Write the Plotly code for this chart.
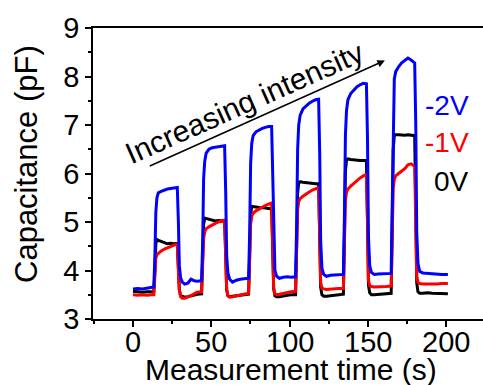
import plotly.graph_objects as go

FONT = "Liberation Sans, Arial, sans-serif"

time_s = [
    0, 3, 6, 9, 12, 13.3,
    14.0, 14.6, 15.3, 16.2, 18, 20, 22, 24, 26, 28.3, 29.0, 29.6, 30.4, 31.5, 33, 35, 37, 39, 41, 43.8,
    44.5, 45.1, 45.8, 46.7, 48.5, 50.5, 52.5, 54.5, 56.5, 58.5, 59.2, 59.8, 60.6, 61.7, 63.5, 66, 68.5, 71, 73.8,
    74.5, 75.1, 75.8, 76.7, 78.5, 80.5, 82.5, 84.5, 86.5, 88.5, 89.2, 89.8, 90.6, 91.7, 93.5, 96, 98.5, 101, 103.8,
    104.5, 105.1, 105.8, 106.7, 108.5, 110.5, 112.5, 114.5, 116.5, 118.5, 119.2, 119.8, 120.6, 121.7, 123.5, 126, 128.5, 131, 134.3,
    135.0, 135.6, 136.3, 137.2, 139, 141, 143, 145, 147, 149, 149.7, 150.3, 151.1, 152.2, 154, 156.5, 159, 161.5, 164.8,
    165.5, 166.1, 166.8, 167.7, 169.5, 171.5, 173.5, 175.5, 177.5, 179.8, 180.5, 181.1, 181.9, 183.0, 185, 188, 191, 194, 197, 201,
]

cap_0V = [
    3.57, 3.56, 3.55, 3.56, 3.55, 3.56,
    4.00, 4.55, 4.64, 4.62, 4.60, 4.57, 4.55, 4.56, 4.55, 4.56, 4.00, 3.60, 3.48, 3.46, 3.45, 3.46, 3.48, 3.50, 3.51, 3.52,
    4.20, 4.95, 5.08, 5.07, 5.05, 5.03, 5.02, 5.03, 5.02, 5.02, 4.30, 3.60, 3.48, 3.46, 3.47, 3.48, 3.49, 3.50, 3.51,
    4.30, 5.15, 5.32, 5.32, 5.31, 5.30, 5.30, 5.29, 5.28, 5.27, 4.40, 3.62, 3.48, 3.46, 3.46, 3.48, 3.49, 3.50, 3.50,
    4.60, 5.60, 5.82, 5.83, 5.82, 5.81, 5.80, 5.80, 5.79, 5.79, 4.70, 3.65, 3.50, 3.47, 3.47, 3.48, 3.49, 3.50, 3.51,
    4.80, 6.05, 6.28, 6.30, 6.29, 6.28, 6.28, 6.27, 6.27, 6.27, 5.00, 3.70, 3.54, 3.50, 3.50, 3.51, 3.52, 3.52, 3.53,
    5.00, 6.50, 6.78, 6.80, 6.80, 6.79, 6.79, 6.80, 6.79, 6.78, 5.30, 3.75, 3.56, 3.53, 3.53, 3.54, 3.53, 3.53, 3.52, 3.52,
]

cap_m1V = [
    3.50, 3.49, 3.50, 3.49, 3.50, 3.50,
    3.90, 4.25, 4.33, 4.36, 4.40, 4.44, 4.47, 4.50, 4.53, 4.55, 4.00, 3.60, 3.46, 3.43, 3.43, 3.45, 3.48, 3.52, 3.55, 3.56,
    4.10, 4.65, 4.80, 4.86, 4.90, 4.94, 4.97, 5.00, 5.02, 5.04, 4.30, 3.62, 3.48, 3.45, 3.46, 3.48, 3.50, 3.52, 3.53,
    4.30, 4.95, 5.12, 5.18, 5.23, 5.27, 5.31, 5.34, 5.37, 5.39, 4.50, 3.65, 3.52, 3.50, 3.51, 3.53, 3.55, 3.56, 3.57,
    4.50, 5.25, 5.42, 5.48, 5.53, 5.58, 5.62, 5.66, 5.69, 5.71, 4.70, 3.75, 3.64, 3.62, 3.61, 3.62, 3.62, 3.63, 3.63,
    4.70, 5.45, 5.62, 5.68, 5.74, 5.80, 5.86, 5.91, 5.95, 5.98, 5.00, 3.80, 3.69, 3.67, 3.66, 3.66, 3.67, 3.67, 3.68,
    4.90, 5.70, 5.88, 5.95, 6.00, 6.05, 6.10, 6.18, 6.20, 6.15, 5.20, 3.88, 3.76, 3.73, 3.72, 3.72, 3.71, 3.72, 3.73, 3.73,
]

cap_m2V = [
    3.62, 3.63, 3.62, 3.64, 3.65, 3.66,
    4.30, 5.20, 5.50, 5.60, 5.63, 5.66, 5.68, 5.69, 5.70, 5.71, 5.00, 4.10, 3.85, 3.76, 3.72, 3.74, 3.82, 3.79, 3.78, 3.79,
    4.60, 5.90, 6.25, 6.42, 6.50, 6.53, 6.54, 6.55, 6.56, 6.57, 5.60, 4.30, 3.95, 3.82, 3.76, 3.80, 3.82, 3.83, 3.84,
    4.80, 6.20, 6.62, 6.78, 6.86, 6.90, 6.93, 6.95, 6.97, 6.97, 6.00, 4.50, 4.00, 3.88, 3.84, 3.86, 3.87, 3.86, 3.87,
    5.00, 6.50, 7.00, 7.20, 7.33, 7.40, 7.45, 7.49, 7.52, 7.53, 6.40, 4.60, 4.05, 3.92, 3.88, 3.90, 3.91, 3.91, 3.92,
    5.20, 6.80, 7.30, 7.52, 7.65, 7.73, 7.79, 7.83, 7.86, 7.85, 6.70, 4.70, 4.10, 3.96, 3.92, 3.93, 3.93, 3.94, 3.94,
    5.40, 7.20, 7.95, 8.10, 8.20, 8.28, 8.33, 8.38, 8.34, 8.28, 7.00, 4.80, 4.15, 3.98, 3.95, 3.94, 3.93, 3.93, 3.92, 3.92,
]

series_names = ["0V", "-1V", "-2V"]
series_colors = ["#000000", "#ff0000", "#0000ff"]
series_values = [cap_0V, cap_m1V, cap_m2V]

x_ticks = [0, 50, 100, 150, 200]
x_tick_labels = ["0", "50", "100", "150", "200"]
y_ticks = [3, 4, 5, 6, 7, 8, 9]

fig = go.Figure()
for name, color, vals in zip(series_names, series_colors, series_values):
    fig.add_trace(go.Scatter(x=time_s, y=vals, mode="lines", name=name,
                             line=dict(color=color, width=3), showlegend=False))

# arrow
fig.add_annotation(x=160.8, y=8.33, ax=9.8, ay=6.14, xref="x", yref="y", axref="x", ayref="y",
                   text="", showarrow=True, arrowhead=2, arrowsize=1, arrowwidth=1.5,
                   arrowcolor="black", standoff=0, startstandoff=0)
fig.add_annotation(x=71.5, y=7.46, xref="x", yref="y", text="Increasing intensity",
                   showarrow=False, textangle=-24, font=dict(family=FONT, size=30, color="black"))

# series labels
label_y = [0.474, 0.605, 0.735]
for name, color, yy in zip(series_names, series_colors, label_y):
    fig.add_annotation(x=0.97, y=yy, xref="paper", yref="paper", text=name, showarrow=False,
                       xanchor="right", yanchor="middle", font=dict(family=FONT, size=28, color=color))

# x tick labels (placed to match the original spacing)
for tv, tl in zip(x_ticks, x_tick_labels):
    fig.add_annotation(x=tv, y=-0.078, xref="x", yref="paper", text=tl, showarrow=False,
                       xanchor="center", yanchor="middle", font=dict(family=FONT, size=29, color="black"))

# axis titles
fig.add_annotation(x=0.508, y=-0.174, xref="paper", yref="paper", text="Measurement time (s)",
                   showarrow=False, xanchor="center", yanchor="middle",
                   font=dict(family=FONT, size=30, color="black"))
fig.add_annotation(x=-0.169, y=0.533, xref="paper", yref="paper", text="Capacitance (pF)",
                   showarrow=False, xanchor="center", yanchor="middle", textangle=-90,
                   font=dict(family=FONT, size=31, color="black"))

axis_common = dict(showline=True, linecolor="black", linewidth=1.5, ticks="outside", ticklen=6,
                   tickwidth=1.5, tickcolor="black", showgrid=False, zeroline=False,
                   tickfont=dict(family=FONT, size=29, color="black"))

fig.update_xaxes(range=[-25.5, 223.4], tickvals=x_ticks, mirror=True, showticklabels=False,
                 minor=dict(dtick=25, tick0=0, ticks="outside", ticklen=3, tickcolor="black", tickwidth=1.5),
                 **axis_common)
fig.update_yaxes(range=[3, 9], tickvals=y_ticks, mirror=False,
                 minor=dict(dtick=0.5, tick0=3, ticks="outside", ticklen=3, tickcolor="black", tickwidth=1.5),
                 **axis_common)

fig.update_layout(width=483, height=385, margin=dict(l=93, r=0, t=28, b=66),
                  plot_bgcolor="white", paper_bgcolor="white")

fig.write_html("out.html", config={"displayModeBar": False},
               post_script="document.body.style.margin='0';document.body.style.overflow='hidden';")
